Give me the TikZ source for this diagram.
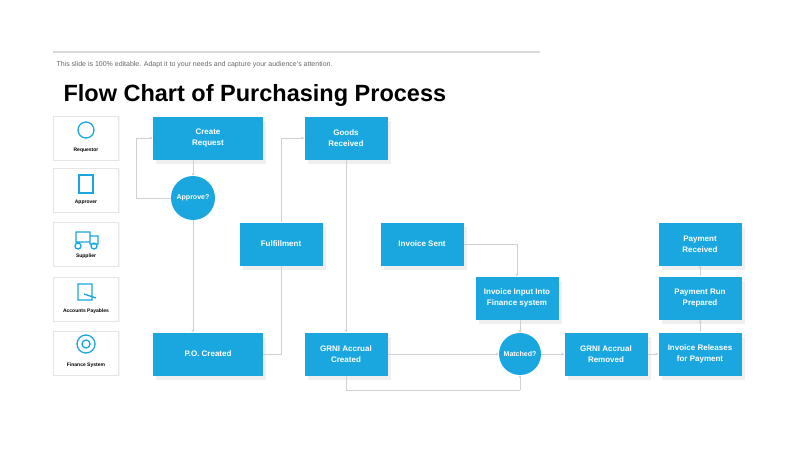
\documentclass[tikz,border=0pt]{standalone}
\usepackage{fontspec}
\setmainfont{Liberation Sans}
\usetikzlibrary{arrows.meta,shadows}
\definecolor{cy}{HTML}{1AA7E0}
\definecolor{cyd}{HTML}{0E6F96}
\definecolor{ln}{HTML}{D0D0D0}
\tikzset{
 box/.style={fill=cy,minimum width=83pt,minimum height=43pt,align=center,text=white,font=\bfseries\fontsize{8}{11}\selectfont,inner sep=1pt,drop shadow={shadow xshift=3pt,shadow yshift=-4pt,fill=black!12}},
 wbox/.style={box,minimum width=110pt},
 dec/.style={circle,fill=cy,minimum size=44pt,inner sep=0pt,text=white,font=\bfseries\fontsize{7}{9}\selectfont},
 card/.style={draw=black!10,fill=white,minimum width=65pt,minimum height=44pt,drop shadow={shadow xshift=1pt,shadow yshift=-1pt,fill=black!8}},
 conn/.style={draw=ln,line width=0.8pt,-{Stealth[length=3pt,width=3pt]}},
 plain/.style={draw=ln,line width=0.8pt},
}
\begin{document}
\begin{tikzpicture}[x=1pt,y=-1pt]
\useasboundingbox (0,0) rectangle (800,448);
\draw[black!15,line width=1.5pt] (53,52) -- (540,52);
\node[anchor=west,text=black!60,font=\fontsize{7}{8}\selectfont] (sub) at (53,65) {This slide is 100\% editable. Adapt it to your needs and capture your audience's attention.};
\node[anchor=west,font=\bfseries\fontsize{23.5}{27}\selectfont] (title) at (60,95) {Flow Chart of Purchasing Process};
% cards
\foreach \n/\y/\t in {c1/138/Requestor,c2/190/Approver,c3/244/Supplier,c4/299/Accounts Payables,c5/353/Finance System}{
 \node[card] (\n) at (86,\y) {};
 \node[font=\bfseries\fontsize{5}{6}\selectfont] at (86,\y+12) {\t};
}
\draw[cy,line width=1.3pt] (86,130) circle (8);
\draw[cy,line width=1.3pt] (79,175) rectangle (93,193);
\draw[cy,line width=1.3pt] (76,232) rectangle (90,242) (90,236) rectangle (98,244) (78,246) circle (3) (94,246) circle (3);
\draw[cy,line width=1.3pt] (78,284) rectangle (92,300) (84,294) -- (96,298);
\draw[cy,line width=1.3pt] (86,344) circle (9) (86,344) circle (4);
% nodes
\node[wbox] (cr) at (208,138) {Create\\Request};
\node[box] (gr) at (346,138) {Goods\\Received};
\node[dec] (ap) at (193,198) {Approve?};
\node[box] (fu) at (281,244) {Fulfillment};
\node[box] (is) at (422,244) {Invoice Sent};
\node[box] (ii) at (517,298) {Invoice Input Into\\Finance system};
\node[box] (pr) at (700,244) {Payment\\Received};
\node[box] (rp) at (700,298) {Payment Run\\Prepared};
\node[box] (ir) at (700,354) {Invoice Releases\\for Payment};
\node[wbox] (po) at (208,354) {P.O. Created};
\node[box] (gc) at (346,354) {GRNI Accrual\\Created};
\node[dec,minimum size=42pt] (ma) at (520,354) {Matched?};
\node[box] (gm) at (606,354) {GRNI Accrual\\Removed};
% connectors
\coordinate (l1) at (136,198);
\coordinate (b1) at (346,390);
\coordinate (b2) at (520,390);
\draw[plain] (ap.west) -- (l1);
\draw[conn] (l1) |- (cr.west);
\draw[conn] (ap.north |- cr.south) -- (ap.north);
\draw[conn] (ap.south) -- (ap.south |- po.north);
\draw[plain] (po.east) -| (fu.south);
\draw[conn] (fu.north) |- (gr.west);
\draw[conn] (gr) -- (gc);
\draw[conn] (gc) -- (ma);
\draw[plain] (gc.south) -- (b1) -- (b2);
\draw[conn] (b2) -- (ma.south);
\draw[conn] (is.east) -| (ii.north);
\draw[conn] (ii.south -| ma.north) -- (ma.north);
\draw[conn] (ma) -- (gm);
\draw[conn] (gm) -- (ir);
\draw[conn] (ir) -- (rp);
\draw[conn] (rp) -- (pr);
\end{tikzpicture}
\end{document}
